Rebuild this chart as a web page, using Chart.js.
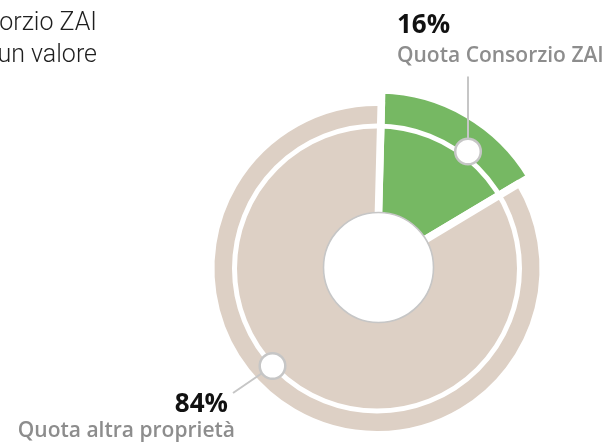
<!DOCTYPE html>
<html>
<head>
<meta charset="utf-8">
<script src="https://cdn.jsdelivr.net/npm/chart.js@4.4.1/dist/chart.umd.min.js"></script>
<style>
  html, body { margin: 0; padding: 0; background: #fff; }
  #wrap { position: relative; width: 609px; height: 443px; }
</style>
</head>
<body>
<div id="wrap"><canvas id="donut"></canvas></div>
<script>
// shares
const categories = ['Quota Consorzio ZAI', 'Quota altra proprietà'];
const shares = [16, 84];
const introLines = ['orzio ZAI', 'un valore'];

const SLICE_COLORS = ['#76b863', '#ddd0c5'];
const GUIDE = '#c6c6c6';

// green slice sticks out past the beige one
const rimPlugin = {
  id: 'rim',
  afterDatasetsUpdate(chart) {
    const arc = chart.getDatasetMeta(0).data[0];
    if (arc) arc.outerRadius += 12.5;
  },
  afterDatasetsDraw(chart) {
    const ctx = chart.ctx;
    const arc = chart.getDatasetMeta(0).data[0];
    const cx = arc.x, cy = arc.y;
    ctx.save();

    // white inner ring
    ctx.beginPath();
    ctx.arc(cx, cy, 142.5, 0, Math.PI * 2);
    ctx.strokeStyle = '#fff';
    ctx.lineWidth = 5;
    ctx.stroke();

    // centre hole
    ctx.beginPath();
    ctx.arc(cx + 1.5, cy - 1, 55, 0, Math.PI * 2);
    ctx.fillStyle = '#fff';
    ctx.fill();
    ctx.strokeStyle = GUIDE;
    ctx.lineWidth = 1.6;
    ctx.stroke();

    // leader lines + markers
    const marks = [
      { dx: 91, dy: -117, lx: 91, ly: -192 },
      { dx: -104.5, dy: 97.5, lx: -144, ly: 124.5 }
    ];
    ctx.strokeStyle = GUIDE;
    ctx.lineWidth = 2;
    marks.forEach(m => {
      ctx.beginPath();
      ctx.moveTo(cx + m.dx, cy + m.dy);
      ctx.lineTo(cx + m.lx, cy + m.ly);
      ctx.stroke();
    });
    marks.forEach(m => {
      ctx.beginPath();
      ctx.arc(cx + m.dx, cy + m.dy, 12.8, 0, Math.PI * 2);
      ctx.fillStyle = '#fff';
      ctx.fill();
      ctx.lineWidth = 2.5;
      ctx.stroke();
    });

    // labels
    ctx.textBaseline = 'alphabetic';
    ctx.textAlign = 'left';
    ctx.fillStyle = '#111';
    ctx.font = 'bold 26px "Open Sans"';
    ctx.fillText(shares[0] + '%', 397, 33);
    ctx.fillStyle = '#8d8d8d';
    ctx.font = '600 21px "Open Sans"';
    ctx.fillText(categories[0], 397, 62);

    ctx.textAlign = 'right';
    ctx.fillStyle = '#111';
    ctx.font = 'bold 26px "Open Sans"';
    ctx.fillText(shares[1] + '%', 228, 412);
    ctx.fillStyle = '#8d8d8d';
    ctx.font = '600 21px "Open Sans"';
    ctx.fillText(categories[1], 235, 437);

    // cut-off paragraph text at the top left
    ctx.fillStyle = '#1e1e1e';
    ctx.font = '300 25px Roboto';
    ctx.fillText(introLines[0], 97, 30);
    ctx.fillText(introLines[1], 97, 62);

    ctx.restore();
  }
};

new Chart(document.getElementById('donut'), {
  type: 'doughnut',
  data: {
    labels: categories,
    datasets: [{
      data: shares,
      backgroundColor: SLICE_COLORS,
      borderColor: '#fff',
      borderWidth: 7.6,
      hoverOffset: 0
    }]
  },
  options: {
    responsive: true,
    maintainAspectRatio: false,
    animation: false,
    rotation: 1.5,
    radius: 166.3,
    cutout: '30%',
    layout: { padding: { left: 150, right: 5, top: 94, bottom: 0 } },
    plugins: {
      legend: { display: false },
      tooltip: { enabled: false }
    },
    events: []
  },
  plugins: [rimPlugin]
});
</script>
</body>
</html>
